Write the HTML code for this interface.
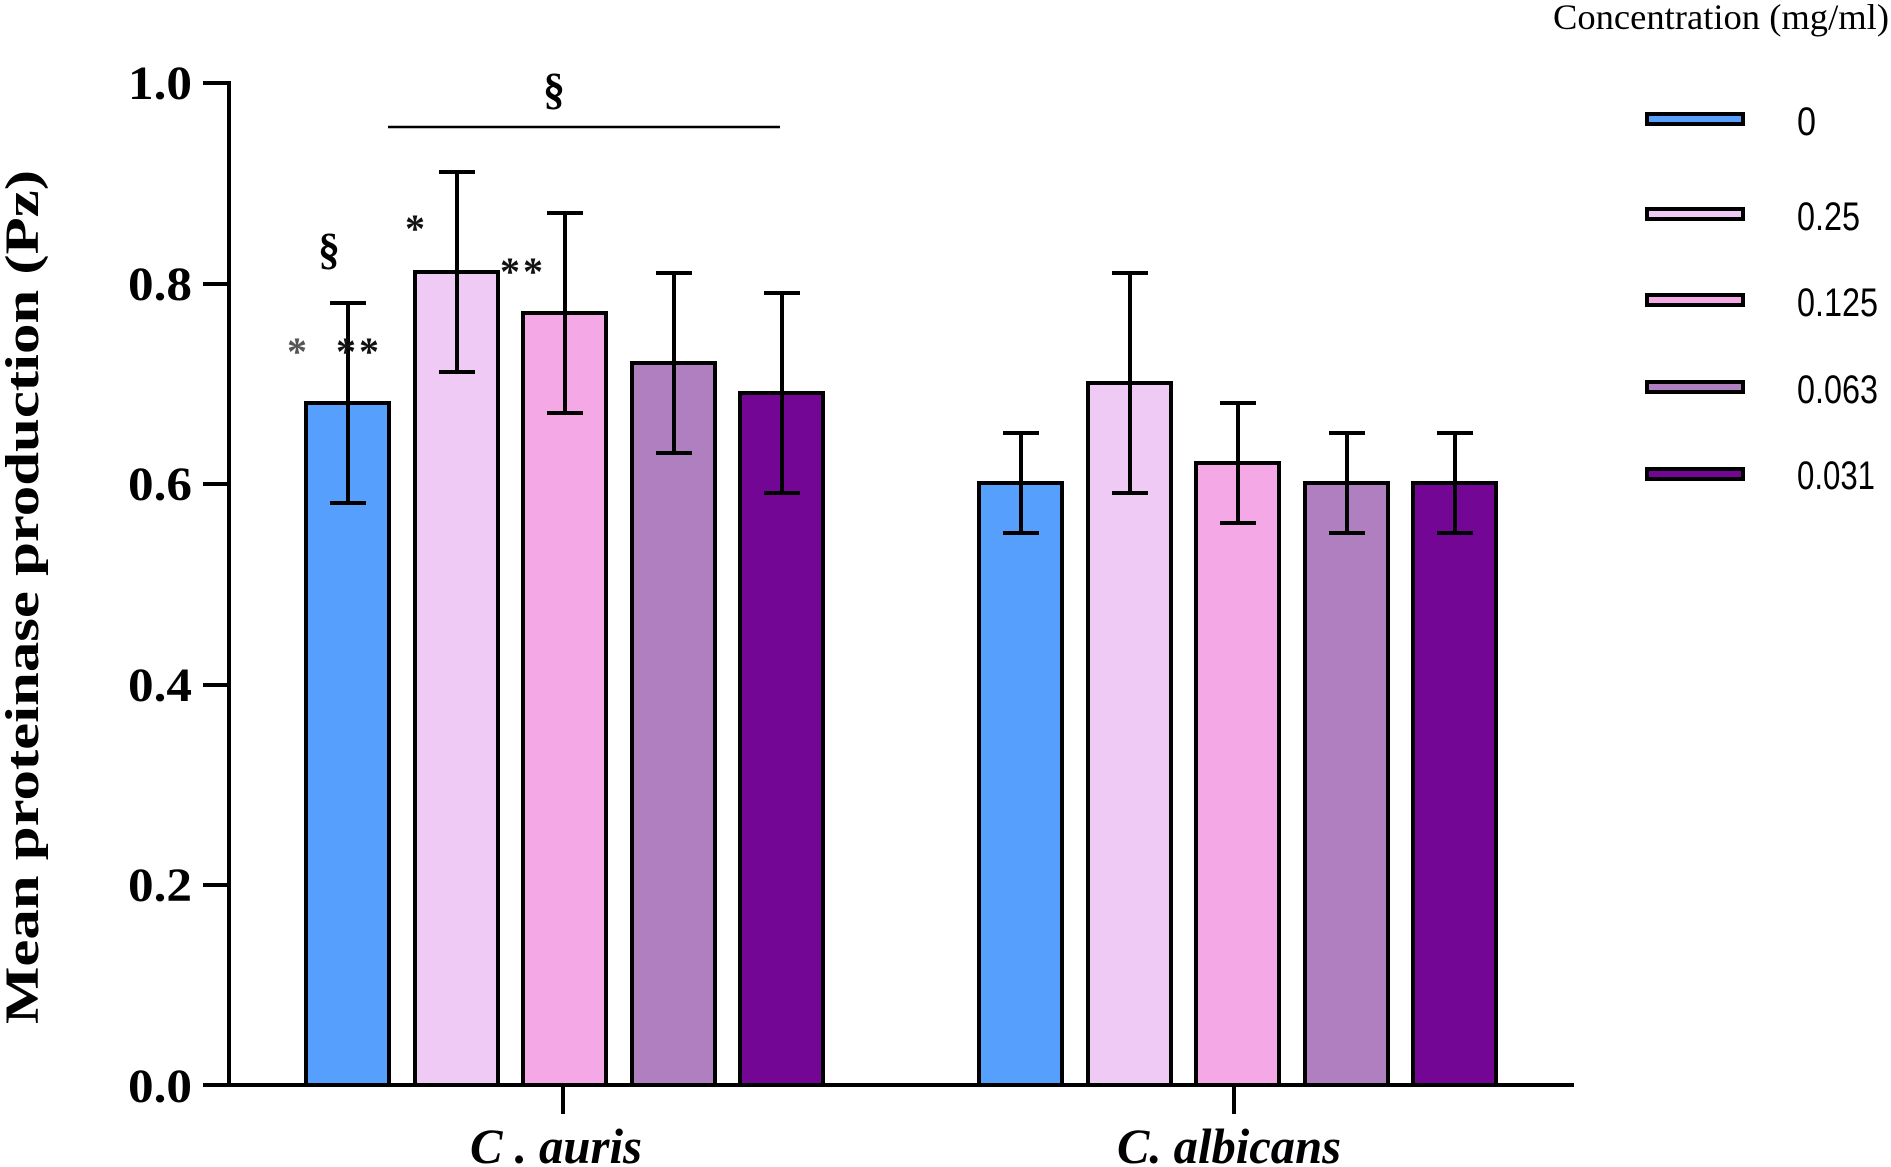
<!DOCTYPE html>
<html><head><meta charset="utf-8"><style>
html,body{margin:0;padding:0;background:#fff;}
svg{display:block;}
</style></head><body>
<svg width="1891" height="1167" viewBox="0 0 1891 1167" xmlns="http://www.w3.org/2000/svg">
<g font-family="'Liberation Serif',serif" font-weight="bold" font-size="48" fill="#000" text-anchor="end">
<text x="192" y="99" textLength="64" lengthAdjust="spacingAndGlyphs">1.0</text>
<text x="192" y="300" textLength="64" lengthAdjust="spacingAndGlyphs">0.8</text>
<text x="192" y="500" textLength="64" lengthAdjust="spacingAndGlyphs">0.6</text>
<text x="192" y="701" textLength="64" lengthAdjust="spacingAndGlyphs">0.4</text>
<text x="192" y="901" textLength="64" lengthAdjust="spacingAndGlyphs">0.2</text>
<text x="192" y="1102" textLength="64" lengthAdjust="spacingAndGlyphs">0.0</text>
</g>
<text transform="translate(38,597) rotate(-90)" font-family="'Liberation Serif',serif" font-weight="bold" font-size="48" text-anchor="middle" textLength="854" lengthAdjust="spacingAndGlyphs">Mean proteinase production (Pz)</text>
<g stroke="#000" stroke-width="4" fill="none">
<line x1="229" y1="81" x2="229" y2="1087"/>
<line x1="203" y1="83" x2="229" y2="83"/>
<line x1="203" y1="284" x2="229" y2="284"/>
<line x1="203" y1="484" x2="229" y2="484"/>
<line x1="203" y1="685" x2="229" y2="685"/>
<line x1="203" y1="885" x2="229" y2="885"/>
<line x1="203" y1="1085" x2="1574" y2="1085"/>
<line x1="563" y1="1085" x2="563" y2="1114"/>
<line x1="1234" y1="1085" x2="1234" y2="1114"/>
</g>
<g stroke="#000" stroke-width="4">
<!-- C. auris: y(v)=1085-1003*v -->
<rect x="306" y="403" width="83" height="682" fill="#569ffc"/>
<rect x="415" y="272" width="83" height="813" fill="#efcaf5"/>
<rect x="523" y="313" width="83" height="772" fill="#f5a8e6"/>
<rect x="632" y="363" width="83" height="722" fill="#b07fc0"/>
<rect x="740" y="393" width="83" height="692" fill="#730695"/>
<rect x="979" y="483" width="83" height="602" fill="#569ffc"/>
<rect x="1088" y="383" width="83" height="702" fill="#efcaf5"/>
<rect x="1196" y="463" width="83" height="622" fill="#f5a8e6"/>
<rect x="1305" y="483" width="83" height="602" fill="#b07fc0"/>
<rect x="1413" y="483" width="83" height="602" fill="#730695"/>
</g>
<g stroke="#000" stroke-width="4" fill="none">
<path d="M348 303V503M330 303h36M330 503h36"/>
<path d="M457 172V372M439 172h36M439 372h36"/>
<path d="M565 213V413M547 213h36M547 413h36"/>
<path d="M674 273V453M656 273h36M656 453h36"/>
<path d="M782 293V493M764 293h36M764 493h36"/>
<path d="M1021 433V533M1003 433h36M1003 533h36"/>
<path d="M1130 273V493M1112 273h36M1112 493h36"/>
<path d="M1238 403V523M1220 403h36M1220 523h36"/>
<path d="M1347 433V533M1329 433h36M1329 533h36"/>
<path d="M1455 433V533M1437 433h36M1437 533h36"/>
</g>
<line x1="388" y1="127" x2="780" y2="127" stroke="#000" stroke-width="2.5"/>
<g font-family="'Liberation Serif',serif" font-weight="bold" font-size="44" text-anchor="middle" fill="#000">
<text x="554" y="104">§</text>
<text x="329" y="264">§</text>
</g>
<g font-family="'Liberation Serif',serif" font-weight="bold" font-size="40" text-anchor="middle">
<text x="297" y="365" fill="#555">*</text>
<text x="359" y="365" fill="#111" letter-spacing="3">**</text>
<text x="415" y="242" fill="#111">*</text>
<text x="523" y="285" fill="#111" letter-spacing="3">**</text>
</g>
<g font-family="'Liberation Serif',serif" font-weight="bold" font-style="italic" font-size="50" fill="#000">
<text x="470" y="1163" textLength="172" lengthAdjust="spacingAndGlyphs">C . auris</text>
<text x="1117" y="1163" textLength="224" lengthAdjust="spacingAndGlyphs">C. albicans</text>
</g>
<text x="1553" y="29" font-family="'Liberation Serif',serif" font-size="36" textLength="336" lengthAdjust="spacingAndGlyphs">Concentration (mg/ml)</text>
<g stroke="#000" stroke-width="4">
<rect x="1647" y="114" width="96" height="10" fill="#569ffc"/>
<rect x="1647" y="209" width="96" height="10" fill="#efcaf5"/>
<rect x="1647" y="295" width="96" height="10" fill="#f5a8e6"/>
<rect x="1647" y="382" width="96" height="10" fill="#b07fc0"/>
<rect x="1647" y="469" width="96" height="10" fill="#730695"/>
</g>
<g font-family="'Liberation Sans',sans-serif" font-size="40" fill="#000">
<text x="1797" y="135" textLength="19" lengthAdjust="spacingAndGlyphs">0</text>
<text x="1797" y="230" textLength="63" lengthAdjust="spacingAndGlyphs">0.25</text>
<text x="1797" y="316" textLength="81" lengthAdjust="spacingAndGlyphs">0.125</text>
<text x="1797" y="403" textLength="81" lengthAdjust="spacingAndGlyphs">0.063</text>
<text x="1797" y="489" textLength="78" lengthAdjust="spacingAndGlyphs">0.031</text>
</g>
</svg>
</body></html>
